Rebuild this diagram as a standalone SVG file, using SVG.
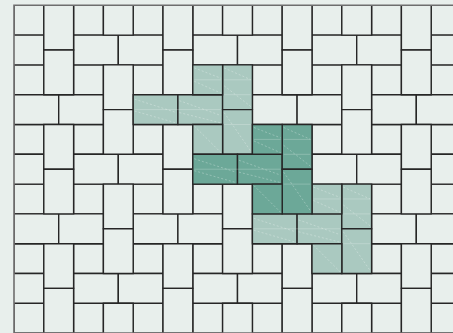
<svg xmlns="http://www.w3.org/2000/svg" width="453" height="333" viewBox="0 0 453 333">
<style>
rect{vector-effect:non-scaling-stroke}
line{vector-effect:non-scaling-stroke}
.t{fill:#e8efec;stroke:#262626;stroke-width:1.4}
.l{fill:#aac9c0;stroke:#262626;stroke-width:1.4}
.d{fill:#6ca898;stroke:#262626;stroke-width:1.4}
.m{stroke:#ffffff;stroke-opacity:0.22;stroke-width:1}
.x{stroke:#ffffff;stroke-opacity:0.35;stroke-width:0.8;stroke-dasharray:2 2}
.b{fill:none;stroke:#6e6e6e;stroke-width:1.6}
</style>
<defs>
<clipPath id="clip"><rect x="0" y="0" width="16" height="11"/></clipPath>
</defs>
<rect x="0" y="0" width="453" height="333" fill="#e8efec"/>
<g id="floor" transform="translate(14 5.3) scale(29.8)">
<g id="plain" clip-path="url(#clip)">
<!-- squares -->
<rect class="t" x="0" y="0" width="1" height="1"/><rect class="t" x="2" y="0" width="1" height="1"/><rect class="t" x="4" y="0" width="1" height="1"/><rect class="t" x="6" y="0" width="1" height="1"/><rect class="t" x="8" y="0" width="1" height="1"/><rect class="t" x="10" y="0" width="1" height="1"/><rect class="t" x="12" y="0" width="1" height="1"/><rect class="t" x="14" y="0" width="1" height="1"/>
<rect class="t" x="0" y="2" width="1" height="1"/><rect class="t" x="2" y="2" width="1" height="1"/><rect class="t" x="4" y="2" width="1" height="1"/><rect class="t" x="8" y="2" width="1" height="1"/><rect class="t" x="10" y="2" width="1" height="1"/><rect class="t" x="12" y="2" width="1" height="1"/><rect class="t" x="14" y="2" width="1" height="1"/>
<rect class="t" x="0" y="4" width="1" height="1"/><rect class="t" x="2" y="4" width="1" height="1"/><rect class="t" x="4" y="4" width="1" height="1"/><rect class="t" x="10" y="4" width="1" height="1"/><rect class="t" x="12" y="4" width="1" height="1"/><rect class="t" x="14" y="4" width="1" height="1"/>
<rect class="t" x="0" y="6" width="1" height="1"/><rect class="t" x="2" y="6" width="1" height="1"/><rect class="t" x="4" y="6" width="1" height="1"/><rect class="t" x="6" y="6" width="1" height="1"/><rect class="t" x="12" y="6" width="1" height="1"/><rect class="t" x="14" y="6" width="1" height="1"/>
<rect class="t" x="0" y="8" width="1" height="1"/><rect class="t" x="2" y="8" width="1" height="1"/><rect class="t" x="4" y="8" width="1" height="1"/><rect class="t" x="6" y="8" width="1" height="1"/><rect class="t" x="8" y="8" width="1" height="1"/><rect class="t" x="12" y="8" width="1" height="1"/><rect class="t" x="14" y="8" width="1" height="1"/>
<rect class="t" x="0" y="10" width="1" height="1"/><rect class="t" x="2" y="10" width="1" height="1"/><rect class="t" x="4" y="10" width="1" height="1"/><rect class="t" x="6" y="10" width="1" height="1"/><rect class="t" x="8" y="10" width="1" height="1"/><rect class="t" x="10" y="10" width="1" height="1"/><rect class="t" x="12" y="10" width="1" height="1"/><rect class="t" x="14" y="10" width="1" height="1"/>
<!-- horizontal tiles -->
<rect class="t" x="-0.5" y="1" width="1.5" height="1"/><rect class="t" x="2" y="1" width="1.5" height="1"/><rect class="t" x="3.5" y="1" width="1.5" height="1"/><rect class="t" x="6" y="1" width="1.5" height="1"/><rect class="t" x="7.5" y="1" width="1.5" height="1"/><rect class="t" x="10" y="1" width="1.5" height="1"/><rect class="t" x="11.5" y="1" width="1.5" height="1"/><rect class="t" x="14" y="1" width="1.5" height="1"/>
<rect class="t" x="-0.5" y="5" width="1.5" height="1"/><rect class="t" x="2" y="5" width="1.5" height="1"/><rect class="t" x="3.5" y="5" width="1.5" height="1"/><rect class="t" x="10" y="5" width="1.5" height="1"/><rect class="t" x="11.5" y="5" width="1.5" height="1"/><rect class="t" x="14" y="5" width="1.5" height="1"/>
<rect class="t" x="-0.5" y="9" width="1.5" height="1"/><rect class="t" x="2" y="9" width="1.5" height="1"/><rect class="t" x="3.5" y="9" width="1.5" height="1"/><rect class="t" x="6" y="9" width="1.5" height="1"/><rect class="t" x="7.5" y="9" width="1.5" height="1"/><rect class="t" x="10" y="9" width="1.5" height="1"/><rect class="t" x="11.5" y="9" width="1.5" height="1"/><rect class="t" x="14" y="9" width="1.5" height="1"/>
<rect class="t" x="0" y="3" width="1.5" height="1"/><rect class="t" x="1.5" y="3" width="1.5" height="1"/><rect class="t" x="8" y="3" width="1.5" height="1"/><rect class="t" x="9.5" y="3" width="1.5" height="1"/><rect class="t" x="12" y="3" width="1.5" height="1"/><rect class="t" x="13.5" y="3" width="1.5" height="1"/>
<rect class="t" x="0" y="7" width="1.5" height="1"/><rect class="t" x="1.5" y="7" width="1.5" height="1"/><rect class="t" x="4" y="7" width="1.5" height="1"/><rect class="t" x="5.5" y="7" width="1.5" height="1"/><rect class="t" x="12" y="7" width="1.5" height="1"/><rect class="t" x="13.5" y="7" width="1.5" height="1"/>
<!-- vertical tiles -->
<rect class="t" x="1" y="0" width="1" height="1.5"/><rect class="t" x="1" y="1.5" width="1" height="1.5"/><rect class="t" x="1" y="4" width="1" height="1.5"/><rect class="t" x="1" y="5.5" width="1" height="1.5"/><rect class="t" x="1" y="8" width="1" height="1.5"/><rect class="t" x="1" y="9.5" width="1" height="1.5"/>
<rect class="t" x="5" y="0" width="1" height="1.5"/><rect class="t" x="5" y="1.5" width="1" height="1.5"/><rect class="t" x="5" y="4" width="1" height="1.5"/><rect class="t" x="5" y="5.5" width="1" height="1.5"/><rect class="t" x="5" y="8" width="1" height="1.5"/><rect class="t" x="5" y="9.5" width="1" height="1.5"/>
<rect class="t" x="9" y="0" width="1" height="1.5"/><rect class="t" x="9" y="1.5" width="1" height="1.5"/><rect class="t" x="9" y="8" width="1" height="1.5"/><rect class="t" x="9" y="9.5" width="1" height="1.5"/>
<rect class="t" x="13" y="0" width="1" height="1.5"/><rect class="t" x="13" y="1.5" width="1" height="1.5"/><rect class="t" x="13" y="4" width="1" height="1.5"/><rect class="t" x="13" y="5.5" width="1" height="1.5"/><rect class="t" x="13" y="8" width="1" height="1.5"/><rect class="t" x="13" y="9.5" width="1" height="1.5"/>
<rect class="t" x="3" y="-0.5" width="1" height="1.5"/><rect class="t" x="3" y="2" width="1" height="1.5"/><rect class="t" x="3" y="3.5" width="1" height="1.5"/><rect class="t" x="3" y="6" width="1" height="1.5"/><rect class="t" x="3" y="7.5" width="1" height="1.5"/><rect class="t" x="3" y="10" width="1" height="1.5"/>
<rect class="t" x="7" y="-0.5" width="1" height="1.5"/><rect class="t" x="7" y="6" width="1" height="1.5"/><rect class="t" x="7" y="7.5" width="1" height="1.5"/><rect class="t" x="7" y="10" width="1" height="1.5"/>
<rect class="t" x="11" y="-0.5" width="1" height="1.5"/><rect class="t" x="11" y="2" width="1" height="1.5"/><rect class="t" x="11" y="3.5" width="1" height="1.5"/><rect class="t" x="11" y="10" width="1" height="1.5"/>
</g>
<g id="highlight-light">
<rect class="l" x="4" y="3" width="1.5" height="1"/><rect class="l" x="5.5" y="3" width="1.5" height="1"/>
<rect class="l" x="7" y="2" width="1" height="1.5"/><rect class="l" x="7" y="3.5" width="1" height="1.5"/>
<rect class="l" x="6" y="2" width="1" height="1"/><rect class="l" x="6" y="4" width="1" height="1"/>
<rect class="l" x="8" y="7" width="1.5" height="1"/><rect class="l" x="9.5" y="7" width="1.5" height="1"/>
<rect class="l" x="11" y="6" width="1" height="1.5"/><rect class="l" x="11" y="7.5" width="1" height="1.5"/>
<rect class="l" x="10" y="6" width="1" height="1"/><rect class="l" x="10" y="8" width="1" height="1"/>
</g>
<g id="highlight-dark">
<rect class="d" x="6" y="5" width="1.5" height="1"/><rect class="d" x="7.5" y="5" width="1.5" height="1"/>
<rect class="d" x="9" y="4" width="1" height="1.5"/><rect class="d" x="9" y="5.5" width="1" height="1.5"/>
<rect class="d" x="8" y="4" width="1" height="1"/><rect class="d" x="8" y="6" width="1" height="1"/>
</g>
<g id="texture">
<!-- horizontal tiles -->
<line class="m" x1="4.05" y1="3.5" x2="6.95" y2="3.5"/><line class="x" x1="4.05" y1="3.15" x2="5.45" y2="3.6"/><line class="x" x1="5.55" y1="3.2" x2="6.95" y2="3.7"/><line class="x" x1="4.05" y1="3.55" x2="5.45" y2="3.95"/><line class="x" x1="5.55" y1="3.6" x2="6.95" y2="3.95"/>
<line class="m" x1="8.05" y1="7.5" x2="10.95" y2="7.5"/><line class="x" x1="8.05" y1="7.15" x2="9.45" y2="7.6"/><line class="x" x1="9.55" y1="7.2" x2="10.95" y2="7.7"/><line class="x" x1="8.05" y1="7.55" x2="9.45" y2="7.95"/><line class="x" x1="9.55" y1="7.6" x2="10.95" y2="7.95"/>
<line class="m" x1="6.05" y1="5.5" x2="8.95" y2="5.5"/><line class="x" x1="6.05" y1="5.15" x2="7.45" y2="5.6"/><line class="x" x1="7.55" y1="5.2" x2="8.95" y2="5.7"/><line class="x" x1="6.05" y1="5.55" x2="7.45" y2="5.95"/><line class="x" x1="7.55" y1="5.6" x2="8.95" y2="5.95"/>
<!-- vertical tiles -->
<line class="m" x1="7.05" y1="2.5" x2="7.95" y2="2.5"/><line class="m" x1="7.05" y1="3" x2="7.95" y2="3"/><line class="x" x1="7.05" y1="2.1" x2="7.95" y2="2.5"/><line class="x" x1="7.05" y1="2.7" x2="7.95" y2="3.4"/>
<line class="m" x1="7.05" y1="4" x2="7.95" y2="4"/><line class="x" x1="7.05" y1="3.6" x2="7.95" y2="4.9"/>
<line class="m" x1="11.05" y1="6.5" x2="11.95" y2="6.5"/><line class="m" x1="11.05" y1="7" x2="11.95" y2="7"/><line class="x" x1="11.05" y1="6.1" x2="11.95" y2="6.5"/><line class="x" x1="11.05" y1="6.7" x2="11.95" y2="7.4"/>
<line class="m" x1="11.05" y1="8" x2="11.95" y2="8"/><line class="x" x1="11.05" y1="7.6" x2="11.95" y2="8.9"/>
<line class="m" x1="9.05" y1="4.5" x2="9.95" y2="4.5"/><line class="m" x1="9.05" y1="5" x2="9.95" y2="5"/><line class="x" x1="9.05" y1="4.1" x2="9.95" y2="4.5"/><line class="x" x1="9.05" y1="4.7" x2="9.95" y2="5.4"/>
<line class="m" x1="9.05" y1="6" x2="9.95" y2="6"/><line class="x" x1="9.05" y1="5.6" x2="9.95" y2="6.9"/>
<!-- squares -->
<line class="m" x1="6.05" y1="2.5" x2="6.95" y2="2.5"/><line class="x" x1="6.05" y1="2.1" x2="6.95" y2="2.45"/><line class="x" x1="6.05" y1="2.55" x2="6.95" y2="2.95"/>
<line class="x" x1="6.05" y1="4.05" x2="6.95" y2="4.95"/>
<line class="m" x1="8.05" y1="4.5" x2="8.95" y2="4.5"/><line class="x" x1="8.05" y1="4.1" x2="8.95" y2="4.45"/><line class="x" x1="8.05" y1="4.55" x2="8.95" y2="4.95"/>
<line class="x" x1="8.05" y1="6.05" x2="8.95" y2="6.95"/>
<line class="m" x1="10.05" y1="6.5" x2="10.95" y2="6.5"/><line class="x" x1="10.05" y1="6.1" x2="10.95" y2="6.45"/><line class="x" x1="10.05" y1="6.55" x2="10.95" y2="6.95"/>
<line class="x" x1="10.05" y1="8.05" x2="10.95" y2="8.95"/>
</g>
<rect class="b" x="0" y="0" width="16" height="11"/>
</g>
</svg>
